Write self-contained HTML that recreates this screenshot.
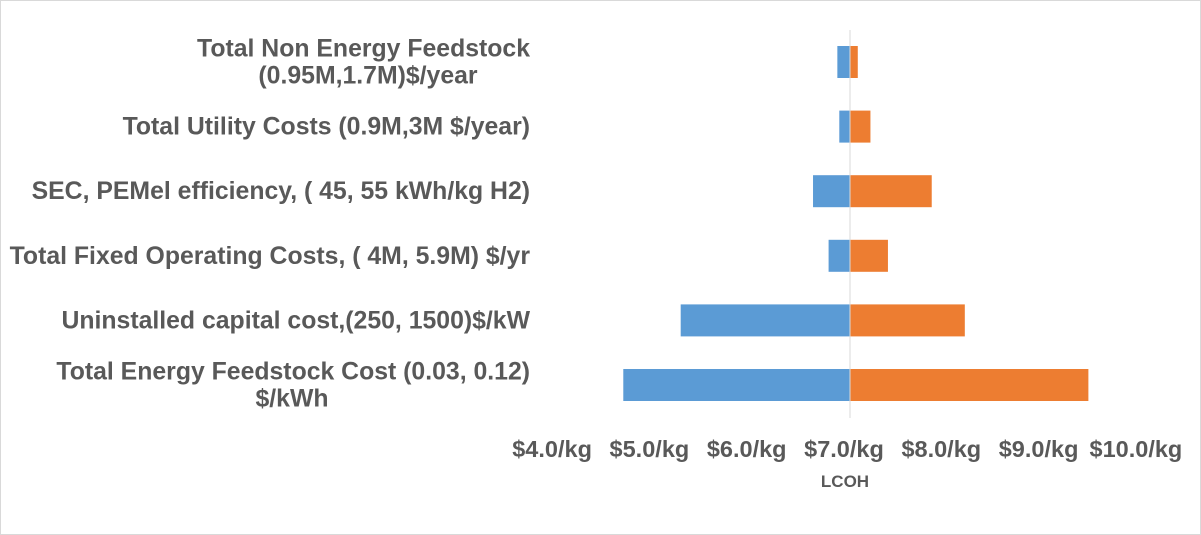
<!DOCTYPE html>
<html><head><meta charset="utf-8"><style>
html,body{margin:0;padding:0;background:#fff;}
svg{display:block;font-family:"Liberation Sans",Arial,sans-serif;}
</style></head><body>
<svg id="chart" width="1201" height="535" viewBox="0 0 1201 535">
<rect x="0.5" y="0.5" width="1200" height="534" fill="#fff" stroke="#d9d9d9"/>
<g id="bars"></g>
<g id="labels"></g>
<g id="ticks"></g>
<text x="845" y="487" text-anchor="middle" font-size="17" font-weight="bold" fill="#595959">LCOH</text>
</svg>
<script>
const categories = [
 ["Total Non Energy Feedstock","(0.95M,1.7M)$/year"],
 ["Total Utility Costs (0.9M,3M $/year)"],
 ["SEC, PEMel efficiency, ( 45, 55 kWh/kg H2)"],
 ["Total Fixed Operating Costs, ( 4M, 5.9M) $/yr"],
 ["Uninstalled capital cost,(250, 1500)$/kW"],
 ["Total Energy Feedstock Cost (0.03, 0.12)","$/kWh"]
];
const lowValues = [6.87, 6.89, 6.62, 6.78, 5.26, 4.67];
const highValues = [7.08, 7.21, 7.84, 7.39, 8.18, 9.45];
const baseValue = 7.0;
const tickValues = [4,5,6,7,8,9,10];
const tickLabels = ["$4.0/kg","$5.0/kg","$6.0/kg","$7.0/kg","$8.0/kg","$9.0/kg","$10.0/kg"];

const NS="http://www.w3.org/2000/svg";
const x = v => 850 + (v - 7) * 97.3;
const yc = i => 62 + i * 64.6;
const bh = 32;
function mk(tag, attrs, parent){const e=document.createElementNS(NS,tag);for(const k in attrs)e.setAttribute(k,attrs[k]);parent.appendChild(e);return e;}
const gb=document.getElementById('bars'), gl=document.getElementById('labels'), gt=document.getElementById('ticks');
const secondLineCenter=[368,null,null,null,null,292];
categories.forEach((c,i)=>{
  const lo=lowValues[i], hi=highValues[i];
  const r1=mk('rect',{x:Math.min(x(lo),x(baseValue)),y:yc(i)-bh/2,width:Math.abs(x(baseValue)-x(lo)),height:bh,fill:'#5b9bd5'},gb);
  
  
  const r2=mk('rect',{x:Math.min(x(hi),x(baseValue)),y:yc(i)-bh/2,width:Math.abs(x(hi)-x(baseValue)),height:bh,fill:'#ed7d31'},gb);
  
  
  const t=mk('text',{x:530,'font-size':24.8,'font-weight':'bold',fill:'#595959'},gl);
  
  
  const n=c.length;
  c.forEach((line,j)=>{
    const second = n>1 && j===1;
    const ts=mk('tspan',{x: second ? secondLineCenter[i] : 530, y: yc(i)+8+(j-(n-1)/2)*27, 'text-anchor': second?'middle':'end'},t);
    ts.textContent=line;
  });
});
const ax=mk('line',{x1:x(baseValue),x2:x(baseValue),y1:30,y2:418,stroke:'#d9d9d9','stroke-width':1},gb);


tickValues.forEach((v,i)=>{
  const t=mk('text',{x:x(v)-6,y:457,'text-anchor':'middle','font-size':23.5,'font-weight':'bold',fill:'#595959'},gt);
  
  
  t.textContent=tickLabels[i];
});
</script>
</body></html>
